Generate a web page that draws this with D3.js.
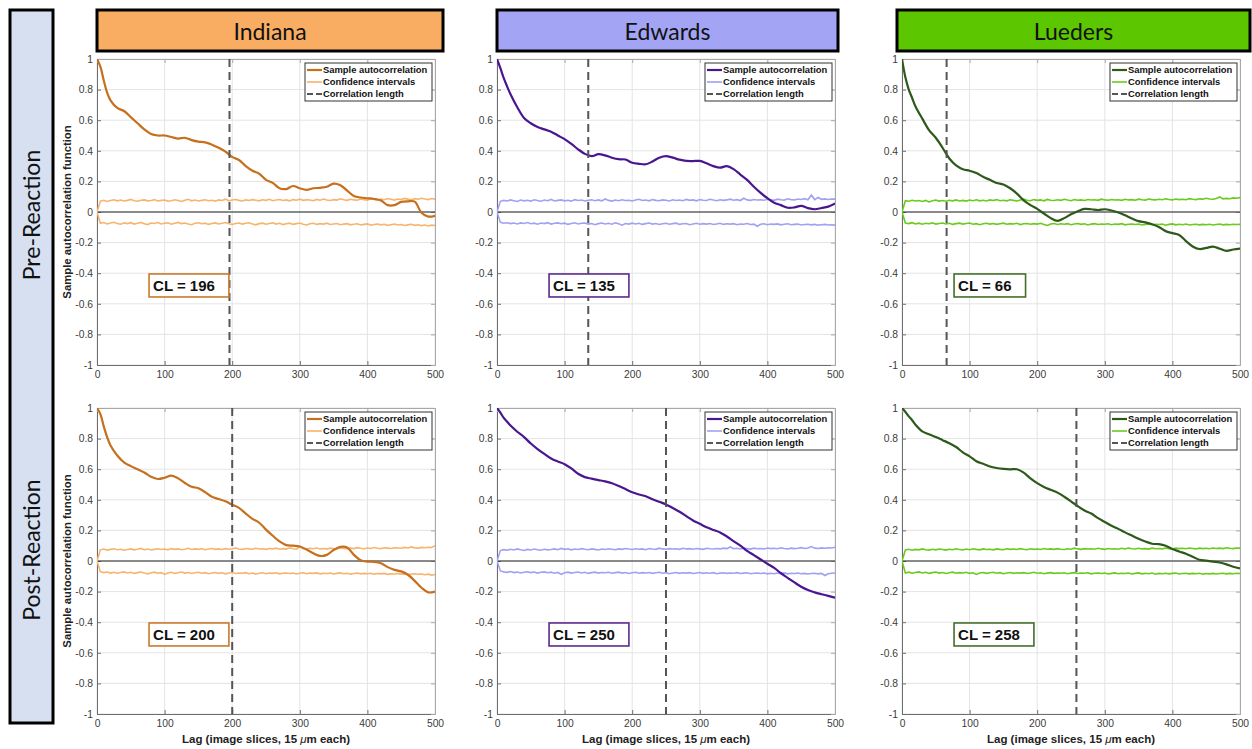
<!DOCTYPE html>
<html>
<head>
<meta charset="utf-8">
<script src="https://cdn.jsdelivr.net/npm/d3@7"></script>
<style>
body{margin:0;background:#fff}
text{font-family:"Liberation Sans",Arial,sans-serif}
</style>
</head>
<body>
<svg id="fig" width="1252" height="749"></svg>
<script>
const sites = ["Indiana", "Edwards", "Lueders"]
const stages = ["Pre-Reaction", "Post-Reaction"]
const xTicks = [0, 100, 200, 300, 400, 500]
const xTickLabels = ["0", "100", "200", "300", "400", "500"]
const yTicks = [-1, -0.8, -0.6, -0.4, -0.2, 0, 0.2, 0.4, 0.6, 0.8, 1]
const yTickLabels = ["-1", "-0.8", "-0.6", "-0.4", "-0.2", "0", "0.2", "0.4", "0.6", "0.8", "1"]
const legendLabels = ["Sample autocorrelation", "Confidence intervals", "Correlation length"]

// correlation length per site (lag where acf falls to ~1/e)
const clPre = [196, 135, 66]
const clPost = [200, 250, 258]

// lag positions of the sample autocorrelation readings
const lags = [0, 5, 10, 15, 20,
  30, 40, 50, 60, 70, 80, 90, 100, 110, 120,
  130, 140, 150, 160, 170, 180, 190, 200, 210, 220,
  230, 240, 250, 260, 270, 280, 290, 300, 310, 320,
  330, 340, 350, 360, 370, 380, 390, 400, 410, 420,
  430, 440, 450, 460, 470, 480, 490, 500]

const acfIndianaPre = [1.0, .95, .86, .78, .73,
  .68, .66, .62, .58, .54, .51, .50, .50, .49, .48,
  .485, .47, .46, .455, .44, .42, .395, .36, .34, .30,
  .27, .25, .21, .19, .155, .15, .17, .155, .145, .155,
  .158, .165, .185, .175, .14, .105, .095, .09, .085, .075,
  .045, .045, .066, .07, .068, -.005, -.03, -.025]
const acfEdwardsPre = [1.0, .94, .875, .82, .77,
  .685, .615, .58, .555, .54, .525, .50, .476, .445, .41,
  .38, .365, .378, .37, .355, .345, .343, .322, .315, .312,
  .33, .355, .365, .355, .342, .334, .333, .334, .318, .30,
  .29, .30, .28, .245, .21, .165, .125, .09, .06, .045,
  .028, .03, .04, .025, .018, .026, .035, .055]
const acfLuedersPre = [1.0, .88, .80, .745, .69,
  .61, .535, .485, .42, .35, .305, .28, .27, .255, .23,
  .21, .19, .18, .155, .12, .076, .045, .02, -.01, -.04,
  -.058, -.04, -.015, .005, .02, .018, .013, .018, .01, -.003,
  -.022, -.042, -.06, -.068, -.08, -.098, -.125, -.138, -.15, -.19,
  -.225, -.242, -.235, -.226, -.24, -.254, -.245, -.24]
const acfIndianaPost = [1.0, .96, .88, .81, .755,
  .69, .645, .62, .60, .578, .55, .536, .544, .558, .54,
  .51, .485, .476, .45, .42, .405, .39, .368, .347, .31,
  .275, .25, .205, .165, .128, .104, .10, .095, .075, .05,
  .033, .04, .072, .092, .088, .04, .005, -.004, -.006, -.015,
  -.04, -.058, -.068, -.09, -.13, -.175, -.205, -.2]
const acfEdwardsPost = [1.0, .97, .935, .91, .885,
  .845, .81, .768, .732, .70, .67, .65, .633, .605, .57,
  .548, .538, .529, .52, .508, .49, .47, .45, .435, .423,
  .404, .387, .37, .346, .322, .293, .265, .243, .22, .203,
  .187, .16, .13, .1, .066, .038, .01, -.018, -.045, -.08,
  -.11, -.14, -.168, -.19, -.205, -.217, -.228, -.24]
const acfLuedersPost = [1.0, .975, .945, .92, .89,
  .847, .828, .81, .79, .77, .745, .71, .684, .652, .635,
  .618, .608, .602, .599, .60, .578, .54, .509, .484, .465,
  .447, .42, .39, .358, .33, .31, .28, .255, .23, .21,
  .187, .166, .145, .128, .113, .11, .1, .078, .062, .047,
  .028, .008, .002, -.004, -.01, -.022, -.038, -.048]

// confidence bounds, one reading every 5 lags
const ciIndianaPreUp = [0, .071, .077, .069, .075, .080, .073, .078, .072, .076,
  .082, .074, .070, .077, .079, .073, .075, .081, .072, .076,
  .078, .071, .074, .080, .075, .069, .077, .083, .073, .078,
  .072, .076, .080, .074, .077, .071, .079, .075, .084, .073,
  .078, .082, .076, .072, .079, .075, .081, .077, .073, .080,
  .076, .083, .074, .078, .082, .075, .079, .073, .081, .077,
  .084, .076, .080, .078, .074, .082, .077, .085, .079, .075,
  .081, .078, .086, .080, .076, .083, .079, .077, .085, .081,
  .078, .087, .082, .079, .084, .080, .088, .083, .078, .085,
  .082, .089, .084, .080, .087, .083, .090, .085, .081, .088, .084]
const ciIndianaPreLo = [0, -.074, -.069, -.078, -.072, -.067, -.075, -.080, -.071, -.076,
  -.070, -.079, -.073, -.068, -.077, -.082, -.072, -.075, -.069, -.078,
  -.074, -.071, -.080, -.073, -.068, -.076, -.072, -.079, -.083, -.074,
  -.070, -.077, -.073, -.081, -.075, -.071, -.078, -.074, -.069, -.077,
  -.082, -.075, -.072, -.079, -.074, -.070, -.078, -.084, -.076, -.073,
  -.080, -.075, -.071, -.079, -.074, -.082, -.077, -.073, -.081, -.076,
  -.072, -.080, -.085, -.077, -.074, -.081, -.076, -.079, -.073, -.082,
  -.078, -.075, -.083, -.079, -.076, -.084, -.080, -.077, -.085, -.081,
  -.078, -.086, -.082, -.079, -.084, -.080, -.087, -.083, -.079, -.085,
  -.082, -.088, -.084, -.080, -.087, -.083, -.089, -.085, -.091, -.086, -.088]
const ciEdwardsPreUp = [0, .070, .076, .072, .079, .074, .069, .078, .073, .077,
  .071, .080, .075, .070, .078, .074, .082, .072, .076, .079,
  .073, .077, .071, .081, .075, .078, .072, .076, .080, .074,
  .079, .073, .085, .076, .071, .078, .074, .080, .075, .077,
  .072, .079, .083, .075, .078, .073, .081, .076, .074, .079,
  .077, .072, .080, .075, .078, .074, .082, .076, .079, .073,
  .081, .077, .075, .083, .078, .074, .080, .076, .079, .084,
  .077, .081, .075, .090, .079, .076, .082, .078, .080, .077,
  .083, .079, .076, .084, .080, .078, .086, .081, .079, .085,
  .082, .087, .080, .110, .081, .095, .083, .086, .082, .085, .084]
const ciEdwardsPreLo = [0, -.068, -.073, -.070, -.076, -.072, -.078, -.071, -.075, -.069,
  -.077, -.073, -.080, -.072, -.076, -.070, -.079, -.074, -.071, -.077,
  -.073, -.081, -.075, -.070, -.078, -.074, -.072, -.079, -.075, -.083,
  -.076, -.072, -.078, -.074, -.080, -.071, -.077, -.086, -.075, -.079,
  -.073, -.078, -.074, -.081, -.076, -.072, -.079, -.075, -.082, -.077,
  -.074, -.080, -.076, -.073, -.081, -.077, -.075, -.083, -.078, -.074,
  -.080, -.076, -.079, -.075, -.082, -.078, -.074, -.081, -.077, -.079,
  -.076, -.083, -.078, -.080, -.075, -.082, -.079, -.093, -.080, -.077,
  -.083, -.079, -.081, -.078, -.084, -.080, -.077, -.083, -.081, -.079,
  -.085, -.082, -.080, -.084, -.081, -.086, -.083, -.081, -.085, -.084, -.086]
const ciLuedersPreUp = [0, .074, .070, .077, .072, .075, .069, .076, .066, .073,
  .078, .071, .075, .070, .077, .073, .079, .072, .076, .071,
  .078, .074, .080, .073, .077, .072, .079, .075, .081, .074,
  .077, .073, .080, .076, .072, .079, .084, .077, .074, .081,
  .076, .079, .073, .082, .077, .075, .080, .076, .083, .078,
  .074, .081, .077, .079, .075, .082, .078, .080, .076, .084,
  .079, .077, .082, .078, .080, .076, .083, .079, .081, .077,
  .084, .080, .078, .085, .081, .079, .083, .080, .086, .082,
  .079, .085, .081, .083, .080, .087, .083, .081, .086, .084,
  .090, .085, .083, .088, .098, .086, .089, .087, .092, .090, .094]
const ciLuedersPreLo = [0, -.072, -.076, -.070, -.078, -.073, -.080, -.074, -.077, -.071,
  -.079, -.075, -.072, -.078, -.074, -.081, -.076, -.073, -.079, -.075,
  -.072, -.080, -.076, -.083, -.077, -.074, -.079, -.075, -.081, -.077,
  -.073, -.080, -.076, -.078, -.074, -.082, -.077, -.075, -.080, -.076,
  -.079, -.074, -.081, -.088, -.078, -.075, -.082, -.077, -.080, -.076,
  -.083, -.078, -.075, -.081, -.077, -.085, -.079, -.076, -.082, -.078,
  -.080, -.077, -.083, -.079, -.081, -.076, -.084, -.080, -.078, -.082,
  -.079, -.085, -.081, -.078, -.083, -.080, -.082, -.079, -.086, -.081,
  -.078, -.084, -.080, -.083, -.079, -.085, -.082, -.080, -.084, -.081,
  -.083, -.080, -.085, -.082, -.079, -.084, -.081, -.083, -.080, -.082, -.081]
const ciIndianaPostUp = [0, .073, .078, .071, .076, .080, .074, .077, .070, .075,
  .079, .073, .077, .082, .074, .078, .072, .076, .080, .075,
  .078, .073, .081, .076, .079, .074, .077, .083, .075, .079,
  .076, .080, .074, .078, .082, .076, .079, .075, .081, .077,
  .080, .085, .078, .076, .082, .079, .077, .083, .078, .080,
  .076, .082, .079, .084, .077, .081, .078, .086, .080, .077,
  .095, .081, .078, .083, .080, .085, .079, .082, .078, .084,
  .081, .079, .086, .082, .080, .084, .081, .087, .083, .080,
  .085, .082, .088, .083, .081, .086, .084, .082, .087, .085,
  .083, .089, .085, .092, .086, .084, .089, .087, .090, .088, .100]
const ciIndianaPostLo = [0, -.070, -.076, -.072, -.079, -.074, -.080, -.075, -.071, -.078,
  -.074, -.081, -.076, -.072, -.079, -.084, -.077, -.073, -.080, -.076,
  -.088, -.079, -.074, -.081, -.077, -.072, -.079, -.075, -.082, -.077,
  -.074, -.080, -.076, -.083, -.078, -.075, -.081, -.077, -.084, -.079,
  -.075, -.082, -.078, -.080, -.076, -.083, -.079, -.086, -.080, -.077,
  -.083, -.079, -.081, -.077, -.084, -.080, -.078, -.082, -.079, -.085,
  -.080, -.077, -.083, -.079, -.081, -.078, -.084, -.080, -.082, -.079,
  -.085, -.081, -.078, -.083, -.080, -.086, -.082, -.079, -.084, -.081,
  -.083, -.080, -.086, -.082, -.084, -.081, -.087, -.083, -.085, -.082,
  -.086, -.084, -.089, -.085, -.083, -.087, -.085, -.090, -.086, -.092, -.088]
const ciEdwardsPostUp = [0, .068, .074, .070, .077, .072, .079, .073, .069, .076,
  .072, .078, .074, .070, .077, .073, .075, .079, .074, .082,
  .076, .080, .073, .078, .075, .081, .077, .074, .079, .076,
  .072, .078, .075, .080, .077, .074, .079, .076, .082, .078,
  .075, .080, .077, .079, .074, .081, .078, .076, .084, .079,
  .077, .081, .078, .080, .076, .083, .079, .081, .077, .082,
  .079, .076, .083, .080, .078, .082, .079, .084, .081, .092,
  .080, .083, .079, .085, .081, .078, .084, .080, .082, .079,
  .085, .081, .083, .080, .086, .082, .079, .084, .081, .083,
  .087, .082, .085, .094, .084, .082, .086, .083, .087, .085, .090]
const ciEdwardsPostLo = [0, -.065, -.071, -.074, -.069, -.076, -.072, -.078, -.073, -.070,
  -.076, -.072, -.079, -.074, -.071, -.077, -.073, -.080, -.075, -.088,
  -.077, -.073, -.079, -.075, -.072, -.078, -.074, -.081, -.076, -.073,
  -.079, -.075, -.077, -.074, -.080, -.076, -.073, -.079, -.075, -.082,
  -.077, -.074, -.080, -.076, -.078, -.075, -.081, -.077, -.074, -.080,
  -.076, -.083, -.078, -.075, -.081, -.077, -.079, -.076, -.082, -.078,
  -.075, -.081, -.077, -.080, -.076, -.083, -.079, -.077, -.081, -.078,
  -.080, -.076, -.082, -.079, -.077, -.083, -.080, -.078, -.082, -.079,
  -.084, -.080, -.083, -.079, -.081, -.078, -.084, -.080, -.082, -.079,
  -.083, -.081, -.085, -.082, -.080, -.084, -.081, -.095, -.083, -.080, -.078]
const ciLuedersPostUp = [0, .072, .077, .070, .076, .073, .079, .074, .071, .077,
  .073, .078, .075, .071, .077, .074, .080, .075, .072, .078,
  .074, .080, .076, .073, .079, .075, .077, .073, .079, .076,
  .074, .080, .076, .078, .075, .081, .077, .074, .080, .076,
  .078, .075, .082, .077, .079, .076, .081, .077, .075, .080,
  .077, .084, .079, .076, .081, .078, .080, .077, .083, .079,
  .076, .082, .078, .080, .077, .083, .079, .085, .080, .078,
  .083, .079, .081, .078, .084, .080, .082, .079, .085, .081,
  .079, .084, .081, .083, .080, .085, .082, .079, .084, .081,
  .083, .080, .085, .082, .084, .081, .086, .083, .081, .085, .084]
const ciLuedersPostLo = [0, -.078, -.073, -.080, -.075, -.071, -.078, -.074, -.081, -.076,
  -.072, -.079, -.075, -.082, -.077, -.073, -.080, -.076, -.078, -.074,
  -.081, -.077, -.088, -.079, -.075, -.081, -.077, -.074, -.080, -.076,
  -.083, -.078, -.075, -.081, -.077, -.079, -.076, -.082, -.078, -.074,
  -.080, -.077, -.083, -.079, -.076, -.081, -.078, -.080, -.077, -.083,
  -.079, -.076, -.082, -.078, -.080, -.077, -.084, -.080, -.078, -.082,
  -.079, -.085, -.081, -.078, -.083, -.080, -.082, -.079, -.085, -.081,
  -.078, -.084, -.080, -.083, -.079, -.086, -.081, -.083, -.080, -.084,
  -.081, -.079, -.085, -.082, -.080, -.084, -.081, -.083, -.080, -.086,
  -.082, -.084, -.081, -.085, -.082, -.080, -.084, -.081, -.083, -.080, -.082]

// colours per site
const headerFill = ["#f9ad63", "#a3a4f4", "#5cc700"]
const acfColor = ["#c66f1d", "#4a1690", "#2d5a1b"]
const ciColor = ["#f6b46e", "#a1a1f2", "#6acb1c"]
const clBorder = ["#c9792c", "#5b2a8e", "#456e2b"]

const panels = [
  {row: 0, col: 0, acf: acfIndianaPre, up: ciIndianaPreUp, lo: ciIndianaPreLo, cl: clPre[0]},
  {row: 0, col: 1, acf: acfEdwardsPre, up: ciEdwardsPreUp, lo: ciEdwardsPreLo, cl: clPre[1]},
  {row: 0, col: 2, acf: acfLuedersPre, up: ciLuedersPreUp, lo: ciLuedersPreLo, cl: clPre[2]},
  {row: 1, col: 0, acf: acfIndianaPost, up: ciIndianaPostUp, lo: ciIndianaPostLo, cl: clPost[0]},
  {row: 1, col: 1, acf: acfEdwardsPost, up: ciEdwardsPostUp, lo: ciEdwardsPostLo, cl: clPost[1]},
  {row: 1, col: 2, acf: acfLuedersPost, up: ciLuedersPostUp, lo: ciLuedersPostLo, cl: clPost[2]}
]

const svg = d3.select("#fig")
const W = 338, H = 306
const colX = [97, 497, 902]
const rowY = [59, 408]

// row label strip
svg.append("rect")
  .attr("x", 10).attr("y", 10).attr("width", 43).attr("height", 713)
  .attr("fill", "#d6e0f1").attr("stroke", "#000").attr("stroke-width", 3)
const rowLabelY = [215, 550]
stages.forEach((s, i) => {
  svg.append("text")
    .attr("transform", `translate(40,${rowLabelY[i]}) rotate(-90)`)
    .attr("text-anchor", "middle")
    .style("font-family", "Lato").style("font-size", "23px").attr("fill", "#111")
    .text(s)
})

// site headers
const headerX = [97, 497, 897], headerW = [346, 341, 353]
sites.forEach((s, i) => {
  svg.append("rect")
    .attr("x", headerX[i]).attr("y", 10).attr("width", headerW[i]).attr("height", 41)
    .attr("fill", headerFill[i]).attr("stroke", "#000").attr("stroke-width", 3)
  svg.append("text")
    .attr("x", headerX[i] + headerW[i] / 2).attr("y", 40)
    .attr("text-anchor", "middle")
    .style("font-family", "Lato").style("font-size", "23px").attr("fill", "#111")
    .text(s)
})

panels.forEach((p, k) => {
  const x0 = colX[p.col], y0 = rowY[p.row]
  const x = d3.scaleLinear().domain([0, 500]).range([x0, x0 + W])
  const y = d3.scaleLinear().domain([-1, 1]).range([y0 + H, y0])
  const g = svg.append("g")

  g.append("clipPath").attr("id", "clip" + k)
    .append("rect").attr("x", x0).attr("y", y0).attr("width", W).attr("height", H)

  g.append("rect").attr("x", x0).attr("y", y0).attr("width", W).attr("height", H).attr("fill", "#fff")

  // grid
  g.selectAll(".gx").data(xTicks).join("line")
    .attr("x1", d => x(d)).attr("x2", d => x(d)).attr("y1", y0).attr("y2", y0 + H)
    .attr("stroke", "#e4e4e4")
  g.selectAll(".gy").data(yTicks).join("line")
    .attr("y1", d => y(d)).attr("y2", d => y(d)).attr("x1", x0).attr("x2", x0 + W)
    .attr("stroke", "#e4e4e4")

  // axes, ticks pointing inward
  const bottom = g.append("g").attr("transform", `translate(0,${y0 + H})`)
    .call(d3.axisBottom(x).tickValues(xTicks).tickSize(-4).tickSizeOuter(0).tickPadding(6)
      .tickFormat((d, i) => xTickLabels[i]))
  const left = g.append("g").attr("transform", `translate(${x0},0)`)
    .call(d3.axisLeft(y).tickValues(yTicks).tickSize(-4).tickSizeOuter(0).tickPadding(4)
      .tickFormat((d, i) => yTickLabels[i]))
  const top = g.append("g").attr("transform", `translate(0,${y0})`)
    .call(d3.axisTop(x).tickValues(xTicks).tickSize(-4).tickSizeOuter(0).tickFormat(""))
  const right = g.append("g").attr("transform", `translate(${x0 + W},0)`)
    .call(d3.axisRight(y).tickValues(yTicks).tickSize(-4).tickSizeOuter(0).tickFormat(""))
  ;[bottom, left].forEach(a => {
    a.select(".domain").attr("stroke", "#6e6e6e")
    a.selectAll(".tick line").attr("stroke", "#6e6e6e")
    a.selectAll(".tick text").attr("fill", "#3c3c3c")
      .style("font-size", "10.3px").style("font-family", "'Liberation Sans', Arial, sans-serif")
  })
  ;[top, right].forEach(a => {
    a.select(".domain").attr("stroke", "#a8a8a8")
    a.selectAll(".tick line").attr("stroke", "#a8a8a8")
  })

  const plot = g.append("g").attr("clip-path", `url(#clip${k})`)

  // zero line
  plot.append("line")
    .attr("x1", x(0)).attr("x2", x(500)).attr("y1", y(0)).attr("y2", y(0))
    .attr("stroke", "#222").attr("stroke-width", 1)

  const ciLine = d3.line().x((d, i) => x(i * 5)).y(d => y(d))
  ;[p.up, p.lo].forEach(arr => {
    plot.append("path").datum(arr)
      .attr("d", ciLine).attr("fill", "none")
      .attr("stroke", ciColor[p.col]).attr("stroke-width", 1.6)
  })

  const acfLine = d3.line().x((d, i) => x(lags[i])).y(d => y(d)).curve(d3.curveCatmullRom)
  plot.append("path").datum(p.acf)
    .attr("d", acfLine).attr("fill", "none")
    .attr("stroke", acfColor[p.col]).attr("stroke-width", 2.2)

  // correlation length marker
  plot.append("line")
    .attr("x1", x(p.cl)).attr("x2", x(p.cl)).attr("y1", y(1)).attr("y2", y(-1))
    .attr("stroke", "#555").attr("stroke-width", 2).attr("stroke-dasharray", "8,5")

  // legend
  const lw = 127, lh = 38
  const lx = x0 + W - 3 - lw, ly = y0 + 4
  const lg = g.append("g")
  lg.append("rect").attr("x", lx).attr("y", ly).attr("width", lw).attr("height", lh)
    .attr("fill", "#fff").attr("stroke", "#333").attr("stroke-width", 1)
  const legStroke = [acfColor[p.col], ciColor[p.col], "#555"]
  const legWidth = [2.2, 1.6, 2]
  legendLabels.forEach((t, i) => {
    const yy = ly + 7 + i * 12
    lg.append("line").attr("x1", lx + 2).attr("x2", lx + 17).attr("y1", yy).attr("y2", yy)
      .attr("stroke", legStroke[i]).attr("stroke-width", legWidth[i])
      .attr("stroke-dasharray", i === 2 ? "6,3" : null)
    lg.append("text").attr("x", lx + 18).attr("y", yy + 3.3)
      .style("font-size", "9.4px").style("font-weight", "bold").attr("fill", "#111")
      .text(t)
  })

  // CL annotation box
  const bx = x(77), by = y(-0.405)
  const box = g.append("rect").attr("x", bx).attr("y", by).attr("height", 23)
    .attr("fill", "#fff").attr("stroke", clBorder[p.col]).attr("stroke-width", 1.6)
  const lbl = g.append("text").attr("x", bx + 4).attr("y", by + 17)
    .style("font-size", "15px").style("font-weight", "bold").attr("fill", "#111")
    .text("CL = " + p.cl)
  box.attr("width", lbl.node().getComputedTextLength() + 18)

  // axis titles
  if (p.col === 0) {
    g.append("text")
      .attr("transform", `translate(71,${y0 + H / 2}) rotate(-90)`)
      .attr("text-anchor", "middle")
      .style("font-size", "11.3px").style("font-weight", "bold").attr("fill", "#222")
      .text("Sample autocorrelation function")
  }
  if (p.row === 1) {
    const t = g.append("text")
      .attr("x", x0 + W / 2).attr("y", 743)
      .attr("text-anchor", "middle")
      .style("font-size", "11.5px").style("font-weight", "bold").attr("fill", "#222")
    t.append("tspan").text("Lag (image slices, 15 ")
    t.append("tspan").style("font-style", "italic").style("font-weight", "normal").text("\u03bc")
    t.append("tspan").text("m each)")
  }
})
</script>
</body>
</html>
